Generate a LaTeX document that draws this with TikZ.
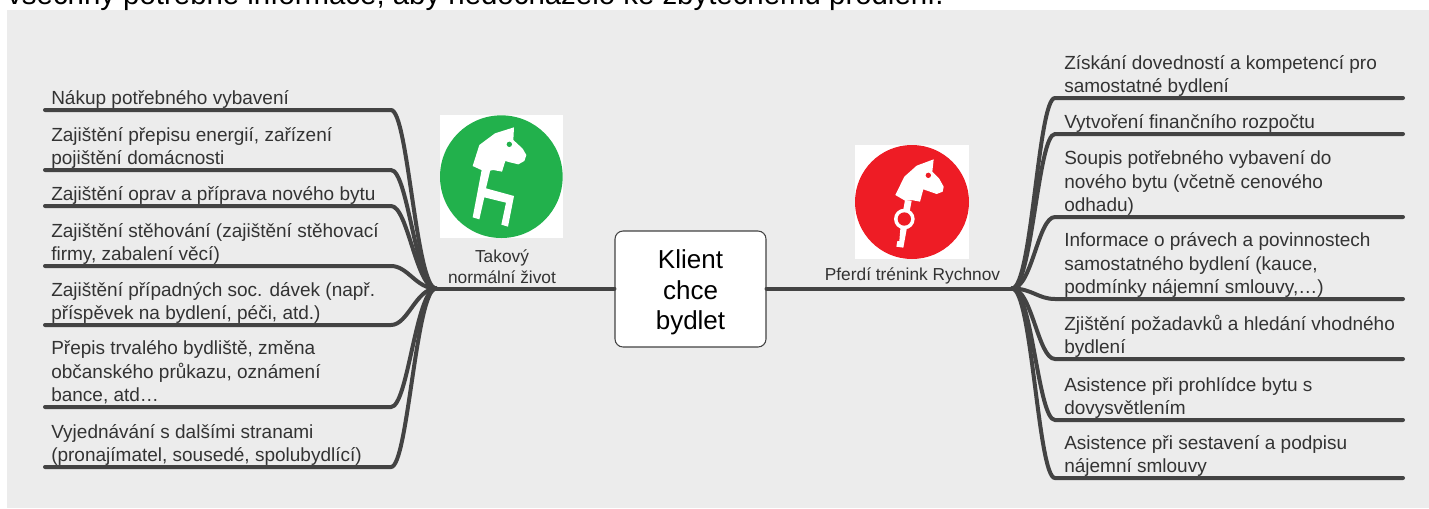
\documentclass[tikz,border=0pt]{standalone}
\usepackage{fontspec}
\setmainfont{Liberation Sans}
\usetikzlibrary{calc}
\definecolor{bgc}{HTML}{ECECEC}
\definecolor{linec}{HTML}{434343}
\definecolor{txtc}{HTML}{333333}
\definecolor{gr}{HTML}{22B14C}
\definecolor{rd}{HTML}{EE1C25}
\tikzset{
 x=0.75pt,y=-0.75pt,
 branch/.style={draw=linec,line width=3pt,line cap=round},
 leaf/.style={anchor=south west,inner sep=0pt,align=left,text=txtc,font=\fontsize{14.25pt}{17.6pt}\selectfont},
 iconlabel/.style={inner sep=0pt,align=center,text=txtc,font=\fontsize{13pt}{15.75pt}\selectfont},
 center box/.style={draw=linec,line width=0.8pt,fill=white,rounded corners=6pt,minimum width=113.25pt,minimum height=87pt,inner sep=0pt},
 center text/.style={inner sep=0pt,align=center,text=black,font=\fontsize{19.5pt}{23pt}\selectfont},
}
\begin{document}
\begin{tikzpicture}
\useasboundingbox (0,0) rectangle (1429,508);
\fill[white] (0,0) rectangle (1429,508);
\fill[bgc] (7,10) rectangle (1429,508);
\begin{scope}
\clip (0,0) rectangle (1429,10);
\node[anchor=base west,inner sep=0pt,font=\fontsize{22.05pt}{24pt}\selectfont,text=black] (top) at (7,4) {všechny potřebné informace, aby nedocházelo ke zbytečnému prodlení.};
\end{scope}
% hubs
\node[center box] (center) at (690.5,289) {};
\node[center text] (centertext) at (690.5,292.5) {Klient\\chce\\bydlet};
\coordinate (lh) at (436,288.5);
\coordinate (rh) at (1012,288.5);
\draw[branch] (center.west |- lh) -- (lh);
\draw[branch] (center.east |- rh) -- (rh);
% left leaves
\foreach \n/\y/\t in {
 1/110/{Nákup potřebného vybavení},
 2/170/{Zajištění přepisu energií, zařízení\\pojištění domácnosti},
 3/206/{Zajištění oprav a příprava nového bytu},
 4/266/{Zajištění stěhování (zajištění stěhovací\\firmy, zabalení věcí)},
 5/325/{Zajištění případných soc. dávek (např.\\příspěvek na bydlení, péči, atd.)},
 6/407/{Přepis trvalého bydliště, změna\\občanského průkazu, oznámení\\bance, atd…},
 7/467/{Vyjednávání s dalšími stranami\\(pronajímatel, sousedé, spolubydlící)}}{
 \coordinate (la\n) at (45,\y);
 \coordinate (lb\n) at (391,\y);
 \node[leaf] (l\n) at (51,\y+2) {\t\strut};
 \draw[branch] (la\n) -- (lb\n) .. controls ($(lb\n)+(17,0)$) and ($(lh)+(-20,0)$) .. (lh);
}
% right leaves
\foreach \n/\y/\t in {
 1/98/{Získání dovedností a kompetencí pro\\samostatné bydlení},
 2/134/{Vytvoření finančního rozpočtu},
 3/217/{Soupis potřebného vybavení do\\nového bytu (včetně cenového\\odhadu)},
 4/299/{Informace o právech a povinnostech\\samostatného bydlení (kauce,\\podmínky nájemní smlouvy,…)},
 5/359/{Zjištění požadavků a hledání vhodného\\bydlení},
 6/420/{Asistence při prohlídce bytu s\\dovysvětlením},
 7/478/{Asistence při sestavení a podpisu\\nájemní smlouvy}}{
 \coordinate (ra\n) at (1403,\y);
 \coordinate (rb\n) at (1055,\y);
 \node[leaf] (r\n) at (1064,\y+2) {\t\strut};
 \draw[branch] (ra\n) -- (rb\n) .. controls ($(rb\n)+(-17,0)$) and ($(rh)+(20,0)$) .. (rh);
}
% green icon
\begin{scope}[shift={(430,100)},x=0.25pt,y=-0.25pt]
 \fill[white] (30,45) rectangle (398,415);
 \fill[gr] (214,230) circle (184);
 \fill[white] (252,82) -- (250,120) -- (278,146) -- (289,165) -- (283,183) -- (265,193) -- (240,187) -- (226,183) -- (216,215) -- (190,210) -- (165,215) -- (128,198) -- (148,135) -- (195,100) -- cycle;
 \fill[white] (155,210) -- (181,210) -- (168,265) -- (252,288) -- (234,380) -- (214,374) -- (228,308) -- (163,292) -- (148,358) -- (128,352) -- cycle;
 \fill[gr] (238,133) circle (8);
\end{scope}
% red icon
\begin{scope}[shift={(810,135)},x=0.25pt,y=-0.25pt]
 \fill[white] (135,30) rectangle (478,372);
 \fill[rd] (306,201) circle (171);
 \fill[white] (371,73) -- (367,110) -- (387,130) -- (401,155) -- (398,170) -- (380,177) -- (360,170) -- (340,163) -- (330,200) -- (304,195) -- (285,197) -- (256,180) -- (283,125) -- (320,92) -- cycle;
 \fill[white] (285,195) -- (305,197) -- (298,235) -- (278,235) -- cycle;
 \fill[white] (272,270) -- (292,272) -- (280,338) -- (259,335) -- (262,318) -- (268,318) -- cycle;
 \fill[white] (283,252) circle (31);
 \fill[rd] (283,252) circle (20);
 \fill[rd] (355,121) circle (8);
\end{scope}
\node[iconlabel] (gl) at (502,267) {Takový\\normální život};
\node[iconlabel] (rl) at (912.5,276) {Pferdí trénink Rychnov};
\end{tikzpicture}
\end{document}
